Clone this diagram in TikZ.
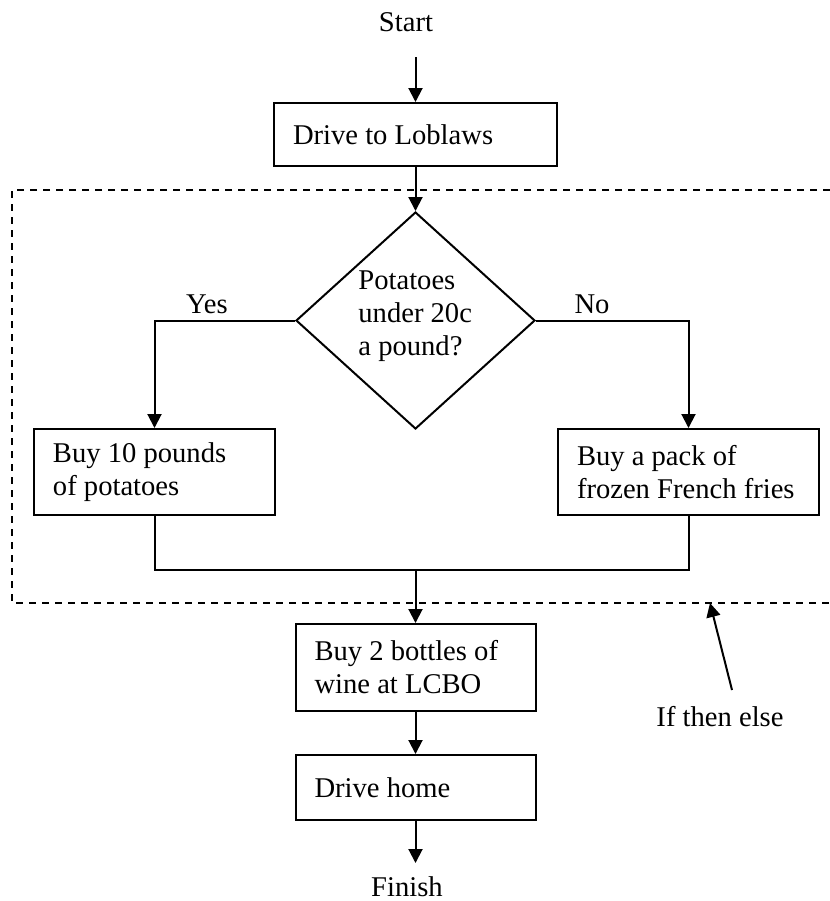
\documentclass[tikz,border=0pt]{standalone}
\usepackage{fontspec}
\setmainfont{Liberation Serif}
\usetikzlibrary{arrows.meta,shapes.geometric}
\begin{document}
\begin{tikzpicture}[x=0.5pt,y=-0.5pt,
  every node/.style={font=\fontsize{14.3pt}{16.5pt}\selectfont},
  box/.style={draw,line width=1pt,rectangle,inner xsep=9.5pt,inner ysep=0pt,align=flush left},
  arr/.style={line width=1pt,-{Triangle[length=7pt,width=7pt]}},
  ln/.style={line width=1pt},
  frame/.style={line width=0.75pt,dash pattern=on 3.5pt off 3pt},
  lbl/.style={inner sep=0pt}]
\useasboundingbox (0,0) rectangle (830,901);

% dashed frame (open at the right edge)
\draw[frame] (830,190) -- (12,190) -- (12,603) -- (830,603);

\node[lbl] (start) at (406,22) {Start};
\coordinate (s0) at (415.5,57);
\node[box,text width=122.5pt,minimum height=31.5pt] (lob) at (415.5,134.5) {Drive to Loblaws};

\node[draw,line width=1pt,diamond,inner sep=0pt,minimum width=119.5pt,minimum height=108.5pt] (dia) at (415.5,320.5) {};
\node[lbl,anchor=west,align=flush left] (dtext) at (358,316) {Potatoes\\under 20c\\a pound?};

\node[lbl] (yes) at (207,304) {Yes};
\node[lbl] (no) at (592,304) {No};

\node[box,text width=101.5pt,minimum height=43pt] (pot) at (154.5,472) {Buy 10 pounds\\of potatoes};
\node[box,text width=111.5pt,minimum height=43pt] (fri) at (688.5,472) {Buy a pack of\\frozen French fries};

\coordinate (m) at (415.5,570);

\node[box,text width=101pt,minimum height=43.5pt] (wine) at (415.5,667.5) {Buy 2 bottles of\\wine at LCBO};
\node[box,text width=101pt,minimum height=32.5pt] (home) at (415.5,787.5) {Drive home};

\coordinate (f0) at (415.5,863);
\node[lbl] (finish) at (407,887) {Finish};

\node[lbl] (ite) at (720,717) {If then else};
\coordinate (itetail) at (732,690);
\coordinate (itetip) at (710,603);

% connectors
\draw[arr] (s0) -- (lob.north);
\draw[arr] (lob.south) -- (dia.north);
\draw[arr] (dia.west) -| (pot.north);
\draw[arr] (dia.east) -| (fri.north);
\draw[ln] (pot.south) |- (m) -| (fri.south);
\draw[arr] (m) -- (wine.north);
\draw[arr] (wine.south) -- (home.north);
\draw[arr] (home.south) -- (f0);
\draw[arr] (itetail) -- (itetip);
\end{tikzpicture}
\end{document}
